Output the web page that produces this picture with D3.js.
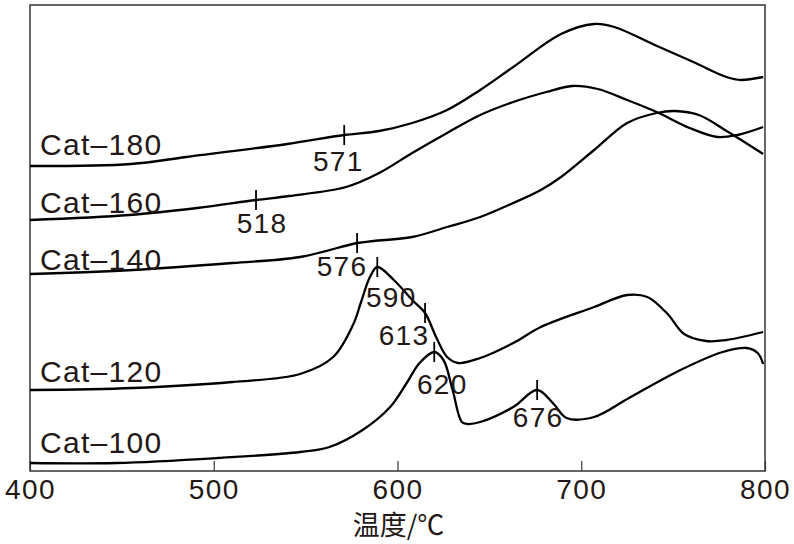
<!DOCTYPE html>
<html>
<head>
<meta charset="utf-8">
<script src="https://cdn.jsdelivr.net/npm/d3@7/dist/d3.min.js"></script>
<style>
  html, body { margin: 0; padding: 0; background: #fff; }
  svg { display: block; }
</style>
</head>
<body>
<svg id="chart" width="794" height="544"></svg>
<script>
// ---- data (temperature °C, signal a.u.) ----
const seriesNames = ["Cat-180", "Cat-160", "Cat-140", "Cat-120", "Cat-100"];
const cat180 = [[400,305],[455,307],[485,314],[540,327],[571,336],[590,340],[608,348],[627,361],[645,381],[663,404],[689,437],[707,447],[718,444],[740,426],[761,409],[779,394],[787,391],[799,394]];
const cat160 = [[400,251],[454,256],[491,263],[523,271],[541,275],[572,284],[590,298],[608,318],[627,338],[645,356],[663,369],[681,379],[695,385],[709,382],[725,371],[741,359],[759,343],[774,334],[785,336],[799,344]];
const cat140 = [[400,197],[456,201],[510,208],[547,214],[578,228],[587,230],[608,234],[627,244],[645,254],[663,268],[678,281],[689,294],[707,321],[725,348],[741,358],[751,360],[764,356],[780,339],[799,317]];
const cat120 = [[400,81],[456,83],[510,89],[547,97],[565,114],[576,147],[580,168],[585,194],[589,204],[598,191],[608,171],[615,158],[621,134],[627,114],[633,108],[645,113],[663,128],[678,144],[707,164],[725,176],[736,174],[747,157],[756,137],[768,130],[779,131],[799,139]];
const cat100 = [[400,8],[447,8],[502,13],[547,19],[563,24],[581,41],[596,64],[605,88],[612,108],[620,119],[625,111],[630,81],[635,49],[638,47],[645,49],[663,64],[676,81],[685,67],[692,53],[707,54],[726,73],[754,101],[777,119],[790,123],[796,118],[799,107]];
const seriesData = [cat180, cat160, cat140, cat120, cat100];

const xTicks = [400, 500, 600, 700, 800];
const xTitle = "温度/℃";

const markerLabels = ["571", "518", "576", "590", "613", "620", "676"];
const markerTemps  = [571, 523, 578, 589, 615, 620, 676];
const markerSeries = [0, 1, 2, 3, 3, 4, 4];

// ---- layout ----
const mLeft = 30, mRight = 765, mTop = 5, mBottom = 471;
const textColor = "#231815";
const fontFam = "'Liberation Sans', Arial, Helvetica, sans-serif";

const svg = d3.select("#chart");
const x = d3.scaleLinear().domain([400, 800]).range([mLeft, mRight]);
const y = d3.scaleLinear().domain([0, 466]).range([mBottom, mTop]);

// frame
svg.append("rect")
  .attr("x", mLeft).attr("y", mTop)
  .attr("width", mRight - mLeft).attr("height", mBottom - mTop)
  .attr("fill", "none").attr("stroke", "#3a3333").attr("stroke-width", 1.5);

// bottom axis with inward ticks
const ax = svg.append("g")
  .attr("transform", `translate(0,${mBottom})`)
  .call(d3.axisBottom(x).tickValues(xTicks).tickSize(-10).tickPadding(8).tickFormat(d3.format("d")));
ax.select(".domain").remove();
ax.selectAll(".tick line").attr("stroke", "#3a3333").attr("stroke-width", 1.2);
ax.selectAll(".tick text")
  .attr("fill", textColor)
  .attr("font-family", fontFam)
  .attr("font-size", 28)
  .attr("y", 28)
  .attr("dy", 0)
  .style("letter-spacing", "1.5px");

// axis title
svg.append("text")
  .attr("x", (mLeft + mRight) / 2 + 1)
  .attr("y", 535)
  .attr("text-anchor", "middle")
  .attr("fill", textColor)
  .attr("font-family", "'Noto Sans CJK SC', sans-serif")
  .attr("font-size", 27)
  .text(xTitle);

// curves
const line = d3.line()
  .x(d => x(d[0])).y(d => y(d[1]))
  .curve(d3.curveCatmullRom.alpha(0.5));

svg.append("g").selectAll("path")
  .data(seriesData)
  .join("path")
  .attr("d", line)
  .attr("fill", "none")
  .attr("stroke", "#000")
  .attr("stroke-width", 2.3)
  .attr("stroke-linejoin", "round");

// series labels
const labelBaselines = [155, 213, 270, 382, 453];
svg.append("g").selectAll("text")
  .data(seriesNames)
  .join("text")
  .attr("x", 40)
  .attr("y", (d, i) => labelBaselines[i])
  .attr("fill", textColor)
  .attr("font-family", fontFam)
  .attr("font-size", 30)
  .style("letter-spacing", "1.3px")
  .text(d => d.replace("-", "\u2013"));

// markers
function valueAt(data, t) {
  for (let i = 1; i < data.length; i++) {
    if (t <= data[i][0]) {
      const a = data[i - 1], b = data[i];
      const f = (t - a[0]) / (b[0] - a[0]);
      return a[1] + f * (b[1] - a[1]);
    }
  }
  return data[data.length - 1][1];
}
const labelOffsets = [[-6, 36], [6, 33], [-15, 33], [14, 40], [-21, 32], [8, 42], [1, 37]];
const mk = svg.append("g");
markerLabels.forEach((lab, i) => {
  const t = markerTemps[i];
  const px = x(t);
  const py = y(valueAt(seriesData[markerSeries[i]], t));
  mk.append("line")
    .attr("x1", px).attr("x2", px)
    .attr("y1", py - 10).attr("y2", py + 10)
    .attr("stroke", "#000").attr("stroke-width", 1.8);
  mk.append("text")
    .attr("x", px + labelOffsets[i][0])
    .attr("y", py + labelOffsets[i][1])
    .attr("text-anchor", "middle")
    .attr("fill", textColor)
    .attr("font-family", fontFam)
    .attr("font-size", 28)
    .style("letter-spacing", "1.3px")
    .text(lab);
});
</script>
</body>
</html>
